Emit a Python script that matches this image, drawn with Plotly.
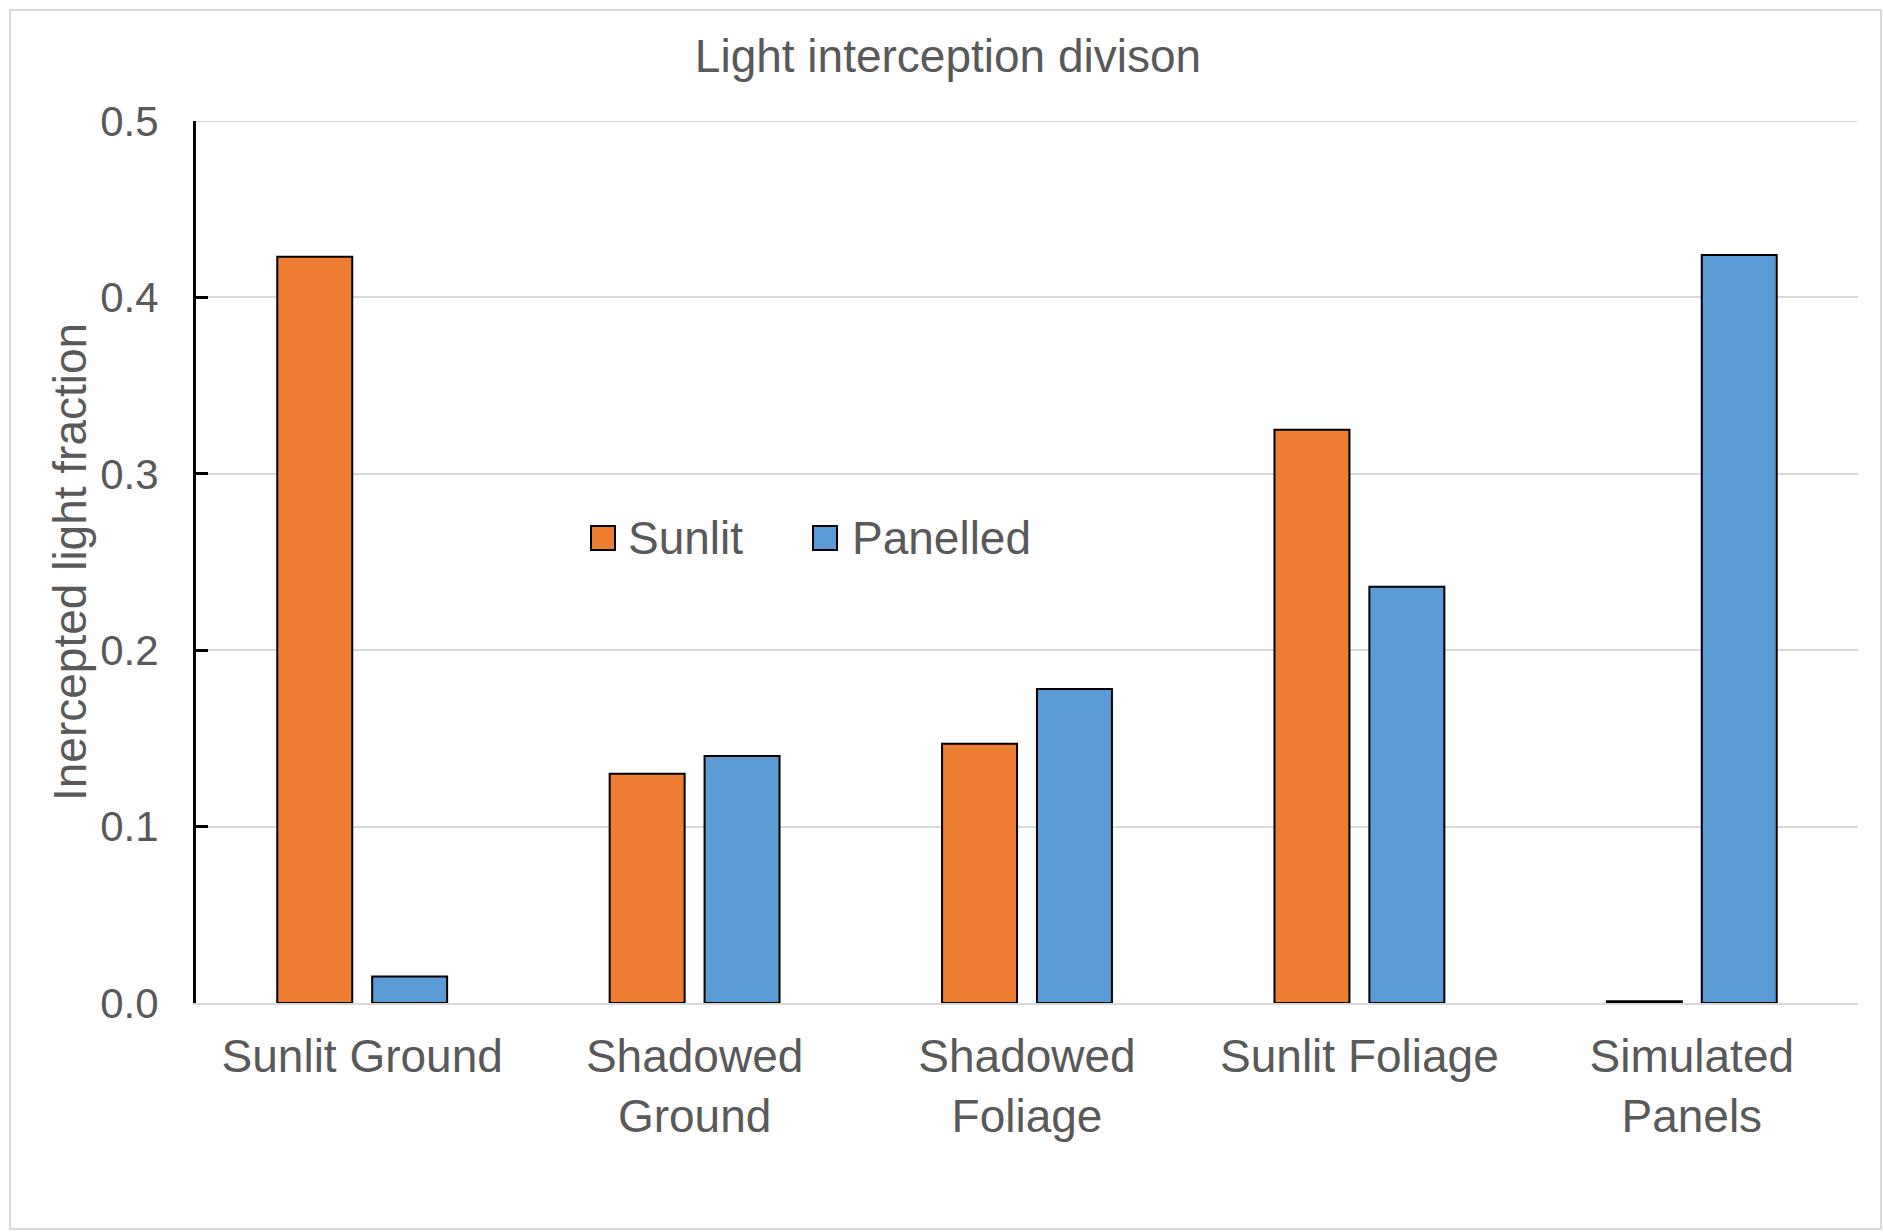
import plotly.graph_objects as go

# Light interception by surface class, with and without panels
categories = ["Sunlit Ground", "Shadowed<br>Ground", "Shadowed<br>Foliage",
              "Sunlit Foliage", "Simulated<br>Panels"]
sunlit = [0.423, 0.130, 0.147, 0.325, 0.001]
panelled = [0.015, 0.140, 0.178, 0.236, 0.424]
series_names = ["Sunlit", "Panelled"]
y_ticks = [0.0, 0.1, 0.2, 0.3, 0.4, 0.5]

ORANGE = "#ED7D31"
BLUE = "#5B9BD5"
TEXT = "#595959"
GRID = "#D9D9D9"
FONT = "Liberation Sans, Arial, sans-serif"

W, H = 1883, 1232
PLOT_L, PLOT_R, PLOT_T, PLOT_B = 196, 1858, 121, 1003


def px_x(px):
    return (px - PLOT_L) / (PLOT_R - PLOT_L)


def px_y(py):
    return (PLOT_B - py) / (PLOT_B - PLOT_T)


fig = go.Figure()
for name, vals, col in [(series_names[0], sunlit, ORANGE), (series_names[1], panelled, BLUE)]:
    fig.add_trace(go.Bar(
        x=categories, y=vals, name=name, showlegend=False,
        marker=dict(color=col, line=dict(color="black", width=2)),
    ))

# legend drawn as swatches + labels inside the plot
shapes = []
annotations = []
for (x0, tx), name, col in zip([(591, 626), (813, 850)], series_names, [ORANGE, BLUE]):
    shapes.append(dict(type="rect", xref="paper", yref="paper",
                       x0=px_x(x0), x1=px_x(x0 + 24), y0=px_y(550), y1=px_y(526),
                       fillcolor=col, line=dict(color="black", width=2)))
    annotations.append(dict(xref="paper", yref="paper", x=px_x(tx), y=px_y(538),
                            xanchor="left", yanchor="middle", showarrow=False,
                            text=name, font=dict(size=46, color=TEXT, family=FONT)))

# y-axis title
annotations.append(dict(xref="paper", yref="paper", x=px_x(70), y=0.5,
                        xanchor="center", yanchor="middle", showarrow=False,
                        textangle=-90, text="Inercepted light fraction",
                        font=dict(size=46, color=TEXT, family=FONT)))

# gridline at the top of the value range
shapes.append(dict(type="line", xref="paper", yref="y", layer="below",
                   x0=0, x1=1, y0=y_ticks[-1], y1=y_ticks[-1],
                   line=dict(color=GRID, width=2)))

# outer chart border
shapes.append(dict(type="rect", xref="paper", yref="paper", layer="below",
                   x0=px_x(10), x1=px_x(1881), y0=px_y(1229), y1=px_y(10),
                   line=dict(color=GRID, width=2), fillcolor="rgba(0,0,0,0)"))

fig.update_layout(
    width=W, height=H,
    margin=dict(l=PLOT_L, r=W - PLOT_R, t=PLOT_T, b=H - PLOT_B, pad=0),
    paper_bgcolor="white", plot_bgcolor="white",
    barmode="group", bargap=0.429, bargroupgap=0.21,
    font=dict(family=FONT, color=TEXT),
    title=dict(text="Light interception divison", x=948 / W, y=1 - 56 / H,
               xref="container", yref="container", xanchor="center", yanchor="middle",
               font=dict(size=46, color=TEXT, family=FONT)),
    shapes=shapes, annotations=annotations,
    xaxis=dict(showline=True, linecolor=GRID, linewidth=2, ticks="",
               showgrid=False, zeroline=False, ticklabelstandoff=12,
               tickfont=dict(size=46, color=TEXT, family=FONT)),
    yaxis=dict(range=[0, 0.5], tickvals=y_ticks, tickformat=".1f",
               showline=True, linecolor="black", linewidth=3,
               ticks="inside", ticklen=12, tickwidth=3, tickcolor="black",
               showgrid=True, gridcolor=GRID, gridwidth=2, zeroline=False,
               ticklabelstandoff=26,
               tickfont=dict(size=42, color=TEXT, family=FONT)),
)

fig.write_html("out.html")
